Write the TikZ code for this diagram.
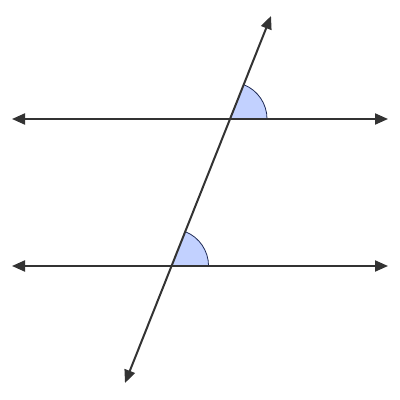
\documentclass[tikz,border=0pt]{standalone}
\usetikzlibrary{arrows.meta}
\definecolor{lineg}{HTML}{333333}
\definecolor{angfill}{HTML}{C2D1FF}
\definecolor{angdraw}{HTML}{1E2A55}
\tikzset{
  ln/.style={draw=lineg, line width=2pt, {Triangle[length=13pt,width=11pt]}-{Triangle[length=13pt,width=11pt]}},
  ang/.style={fill=angfill, draw=angdraw, line width=0.8pt}
}
\begin{document}
\begin{tikzpicture}[x=1pt,y=1pt]
\useasboundingbox (0,0) rectangle (400,400);
\coordinate (A1) at (12,281);
\coordinate (A2) at (388,281);
\coordinate (B1) at (12,134);
\coordinate (B2) at (388,134);
\coordinate (T1) at (125,17);
\coordinate (T2) at (271,384);
\coordinate (P) at (intersection of A1--A2 and T1--T2);
\coordinate (Q) at (intersection of B1--B2 and T1--T2);
\fill[angfill] (P) -- ++(37,0) arc[start angle=0,end angle=68.3,radius=37] -- cycle;
\draw[angdraw, line width=0.8pt] (P) ++(37,0) arc[start angle=0,end angle=68.3,radius=37];
\fill[angfill] (Q) -- ++(37,0) arc[start angle=0,end angle=68.3,radius=37] -- cycle;
\draw[angdraw, line width=0.8pt] (Q) ++(37,0) arc[start angle=0,end angle=68.3,radius=37];
\draw[ln] (A1) -- (A2);
\draw[ln] (B1) -- (B2);
\draw[ln] (T1) -- (T2);
\end{tikzpicture}
\end{document}
